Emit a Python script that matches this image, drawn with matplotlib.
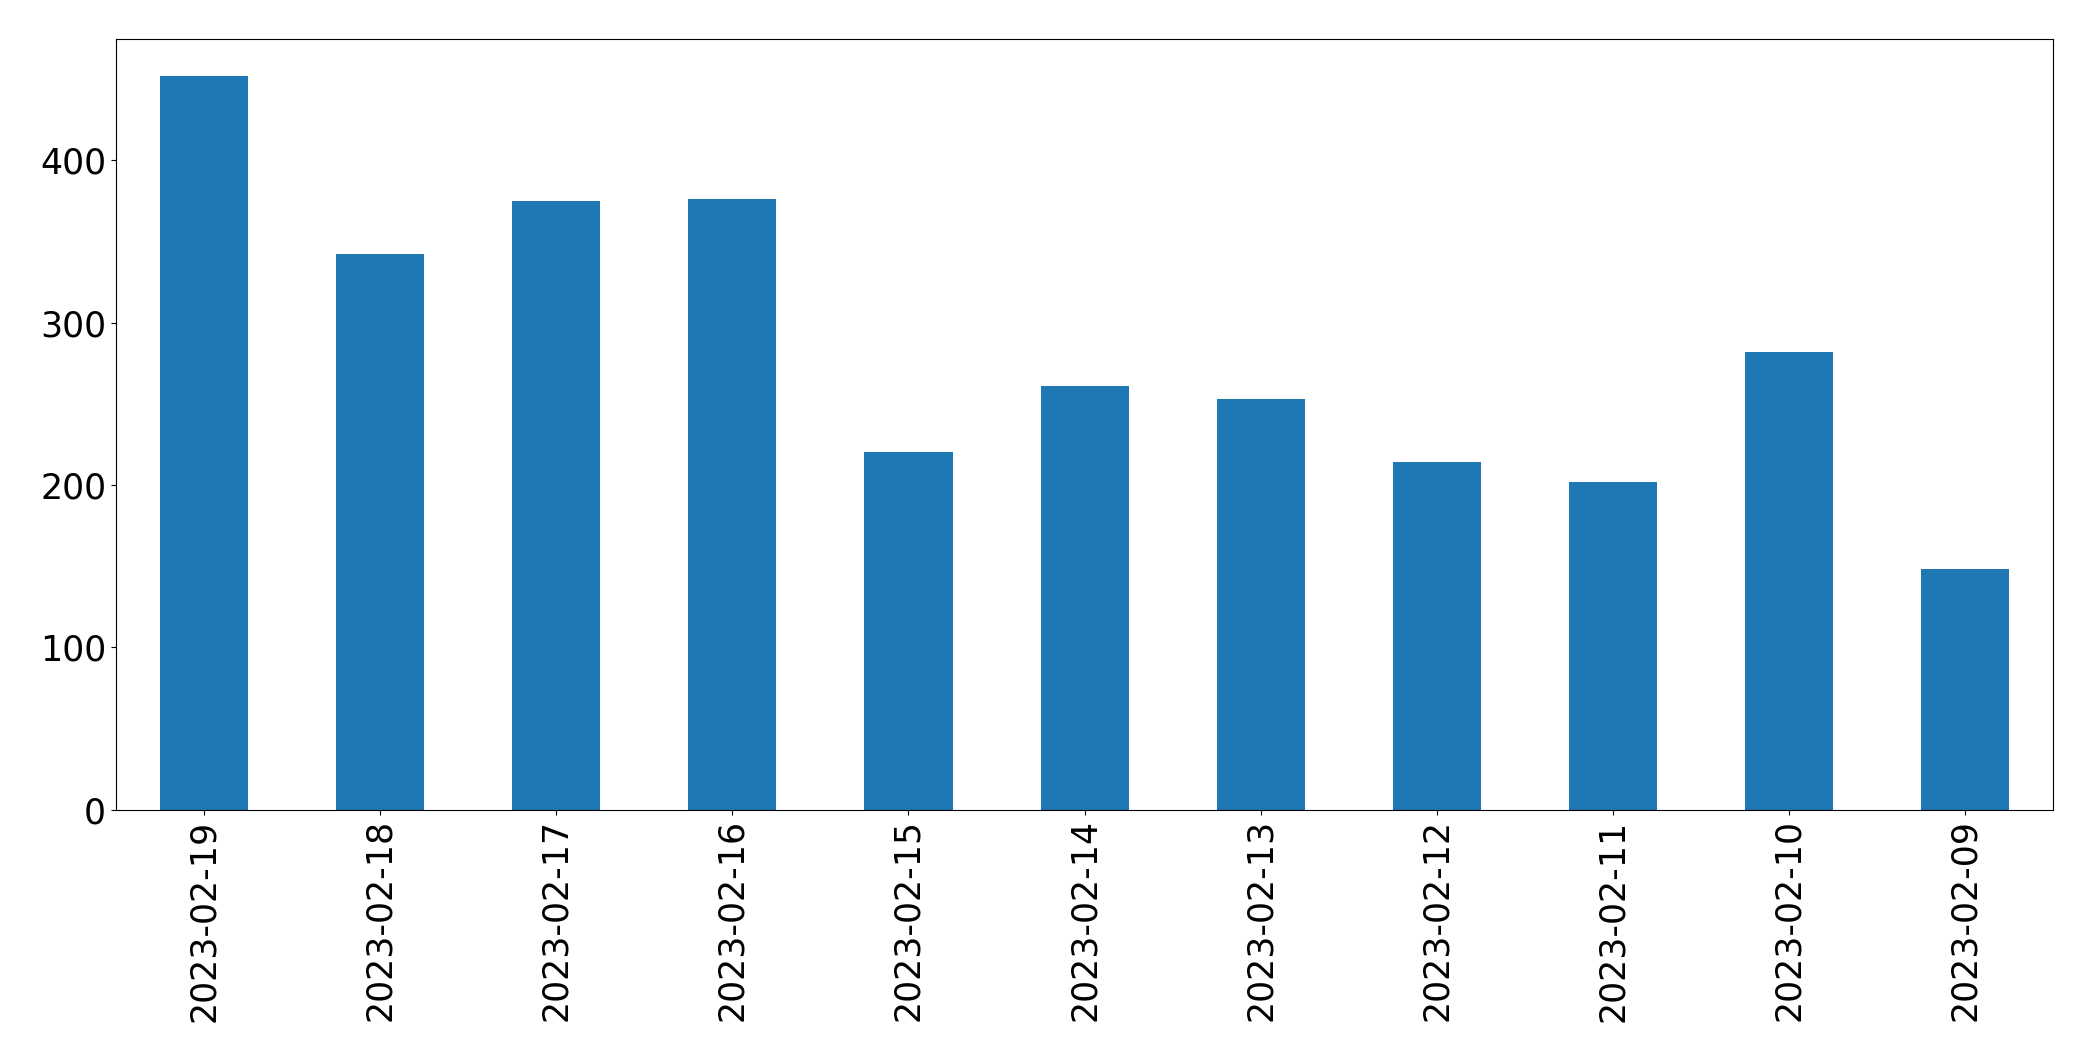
import matplotlib
matplotlib.use("Agg")
import matplotlib.pyplot as plt
import numpy as np

dates: list[str] = ["2023-02-19", "2023-02-18", "2023-02-17", "2023-02-16", "2023-02-15",
                    "2023-02-14", "2023-02-13", "2023-02-12", "2023-02-11", "2023-02-10",
                    "2023-02-09"]
counts: list[int] = [452, 342, 375, 376, 220, 261, 253, 214, 202, 282, 148]

fig, ax = plt.subplots(figsize=(20.93, 10.61), dpi=100)
fig.subplots_adjust(left=0.0554, right=0.981, top=0.963, bottom=0.237)

x: np.ndarray = np.arange(len(dates))
ax.bar(x, counts, width=0.5, color="#1f77b4")
ax.set_xlim(-0.5, len(dates) - 0.5)
ax.set_xticks(x)
ax.set_xticklabels(dates, rotation=90)
ax.tick_params(axis="both", labelsize=25)

fig.savefig("out.png", dpi=100)
